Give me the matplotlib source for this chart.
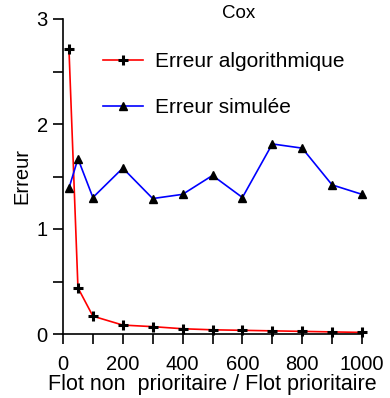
import matplotlib
matplotlib.use("Agg")
import matplotlib.pyplot as plt
from matplotlib.ticker import MultipleLocator

plt.rcParams['font.family'] = ['Liberation Sans', 'DejaVu Sans']

# data
flot = [20, 50, 100, 200, 300, 400, 500, 600, 700, 800, 900, 1000]
erreur_algo = [2.71, 0.44, 0.17, 0.085, 0.07, 0.05, 0.04, 0.035, 0.03, 0.025, 0.02, 0.015]
erreur_sim = [1.39, 1.67, 1.30, 1.58, 1.29, 1.33, 1.51, 1.30, 1.81, 1.77, 1.42, 1.33]

fig = plt.figure(figsize=(3.9, 3.98), dpi=100)
ax = fig.add_axes([63 / 390, 1 - 334 / 398, 299 / 390, 315 / 398])

ax.plot(flot, erreur_algo, color='red', lw=1.2, marker='+', ms=7, mew=2.2,
        mec='black', mfc='black', clip_on=False, label='Erreur algorithmique')
ax.plot(flot, erreur_sim, color='blue', lw=1.2, marker='^', ms=5.5,
        mec='black', mfc='black', clip_on=False, label='Erreur simulée')

ax.set_xlim(0, 1000)
ax.set_ylim(0, 3)
ax.xaxis.set_major_locator(MultipleLocator(200))
ax.xaxis.set_minor_locator(MultipleLocator(100))
ax.yaxis.set_major_locator(MultipleLocator(1))
ax.yaxis.set_minor_locator(MultipleLocator(0.5))
ax.tick_params(which='both', direction='out', length=7, width=1.2, labelsize=14.5)
ax.tick_params(axis='x', pad=8)
ax.tick_params(axis='y', pad=4)
ax.spines['top'].set_visible(False)
ax.spines['right'].set_visible(False)
ax.spines['left'].set_linewidth(1.2)
ax.spines['bottom'].set_linewidth(1.2)

ax.set_xlabel('Flot non  prioritaire / Flot prioritaire', fontsize=15.5, labelpad=0)
ax.set_ylabel('Erreur', fontsize=14.5, labelpad=4)
fig.text(239 / 390, 1 - 14 / 398, 'Cox', ha='center', va='center', fontsize=13.5)

ax.legend(loc='upper left', bbox_to_anchor=(103 / 390, 1 - 52 / 398),
          bbox_transform=fig.transFigure, frameon=False, fontsize=15,
          handlelength=1.9, handletextpad=0.6, labelspacing=1.3,
          borderpad=0, borderaxespad=0)

fig.savefig('out.png', dpi=100)
